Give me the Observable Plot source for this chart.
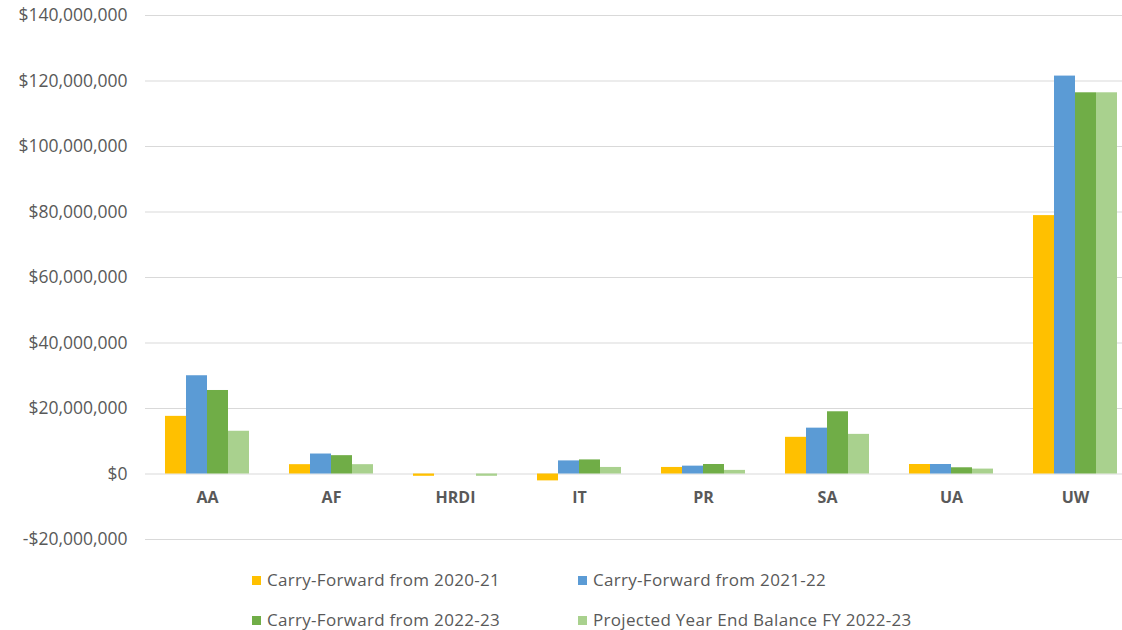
<!DOCTYPE html>
<html>
<head>
<meta charset="utf-8">
<script src="https://cdn.jsdelivr.net/npm/d3@7"></script>
<script src="https://cdn.jsdelivr.net/npm/@observablehq/plot@0.6"></script>
<style>
  html, body { margin: 0; padding: 0; background: #fff; }
  #chart { width: 1122px; height: 630px; overflow: hidden; font-family: "Open Sans", sans-serif; }
  .legend { margin-top: 11px; padding-left: 252px; display: grid; grid-template-columns: 326px 340px; }
  .item { height: 40px; line-height: 40px; font-size: 17px; letter-spacing: 0.3px; color: #595959; white-space: nowrap; }
  .sw { display: inline-block; width: 9px; height: 9px; margin-right: 6px; vertical-align: middle; position: relative; top: -1px; }
</style>
</head>
<body>
<div id="chart"></div>
<script>
const categories = ["AA", "AF", "HRDI", "IT", "PR", "SA", "UA", "UW"];
const seriesNames = [
  "Carry-Forward from 2020-21",
  "Carry-Forward from 2021-22",
  "Carry-Forward from 2022-23",
  "Projected Year End Balance FY 2022-23"
];
const seriesColors = ["#FFC000", "#5B9BD5", "#70AD47", "#A9D18E"];
const cf2021 = [17600000, 2850000, -700000, -2100000, 2000000, 11200000, 2900000, 78900000];
const cf2122 = [30000000, 6100000, 0, 4000000, 2400000, 14000000, 2900000, 121500000];
const cf2223 = [25500000, 5600000, 0, 4300000, 2900000, 19000000, 1900000, 116400000];
const projected = [13050000, 2850000, -700000, 2000000, 1100000, 12100000, 1500000, 116400000];
const yTicks = [-20000000, 0, 20000000, 40000000, 60000000, 80000000, 100000000, 120000000, 140000000];

const seriesValues = [cf2021, cf2122, cf2223, projected];
const rows = [];
categories.forEach((c, i) => {
  seriesNames.forEach((s, j) => rows.push({category: c, series: s, value: seriesValues[j][i]}));
});

const fmt = v => (v < 0 ? "-$" : "$") + d3.format(",")(Math.abs(v));

const plot = Plot.plot({
  width: 1122,
  height: 549,
  marginLeft: 142,
  marginRight: -17,
  marginTop: 15,
  marginBottom: 10,
  style: {fontFamily: "Open Sans, sans-serif", fontSize: "17px", color: "#595959", background: "#fff"},
  fx: {domain: categories, padding: 0, axis: null, label: null},
  x: {domain: seriesNames, paddingInner: 0, paddingOuter: 0.894, axis: null},
  y: {domain: [-20000000, 140000000], ticks: yTicks, tickFormat: fmt, grid: false, label: null},
  color: {domain: seriesNames, range: seriesColors},
  marks: [
    Plot.gridY(yTicks, {stroke: "#d9d9d9", strokeOpacity: 1, strokeWidth: 1}),
    Plot.barY(rows, {fx: "category", x: "series", y: "value", fill: "series"}),
    Plot.axisY(yTicks, {tickSize: 0, tickPadding: 18, tickFormat: fmt, label: null, fontSize: 17.5}),
    Plot.text(categories, {fx: d => d, text: d => d, frameAnchor: "bottom", dy: -37, fontWeight: "bold", fontSize: 16, fill: "#595959"})
  ]
});

const chart = document.getElementById("chart");
chart.appendChild(plot);
const legend = document.createElement("div");
legend.className = "legend";
seriesNames.forEach((s, j) => {
  const it = document.createElement("div");
  it.className = "item";
  const sw = document.createElement("span");
  sw.className = "sw";
  sw.style.background = seriesColors[j];
  it.appendChild(sw);
  it.appendChild(document.createTextNode(s));
  legend.appendChild(it);
});
chart.appendChild(legend);
</script>
</body>
</html>
